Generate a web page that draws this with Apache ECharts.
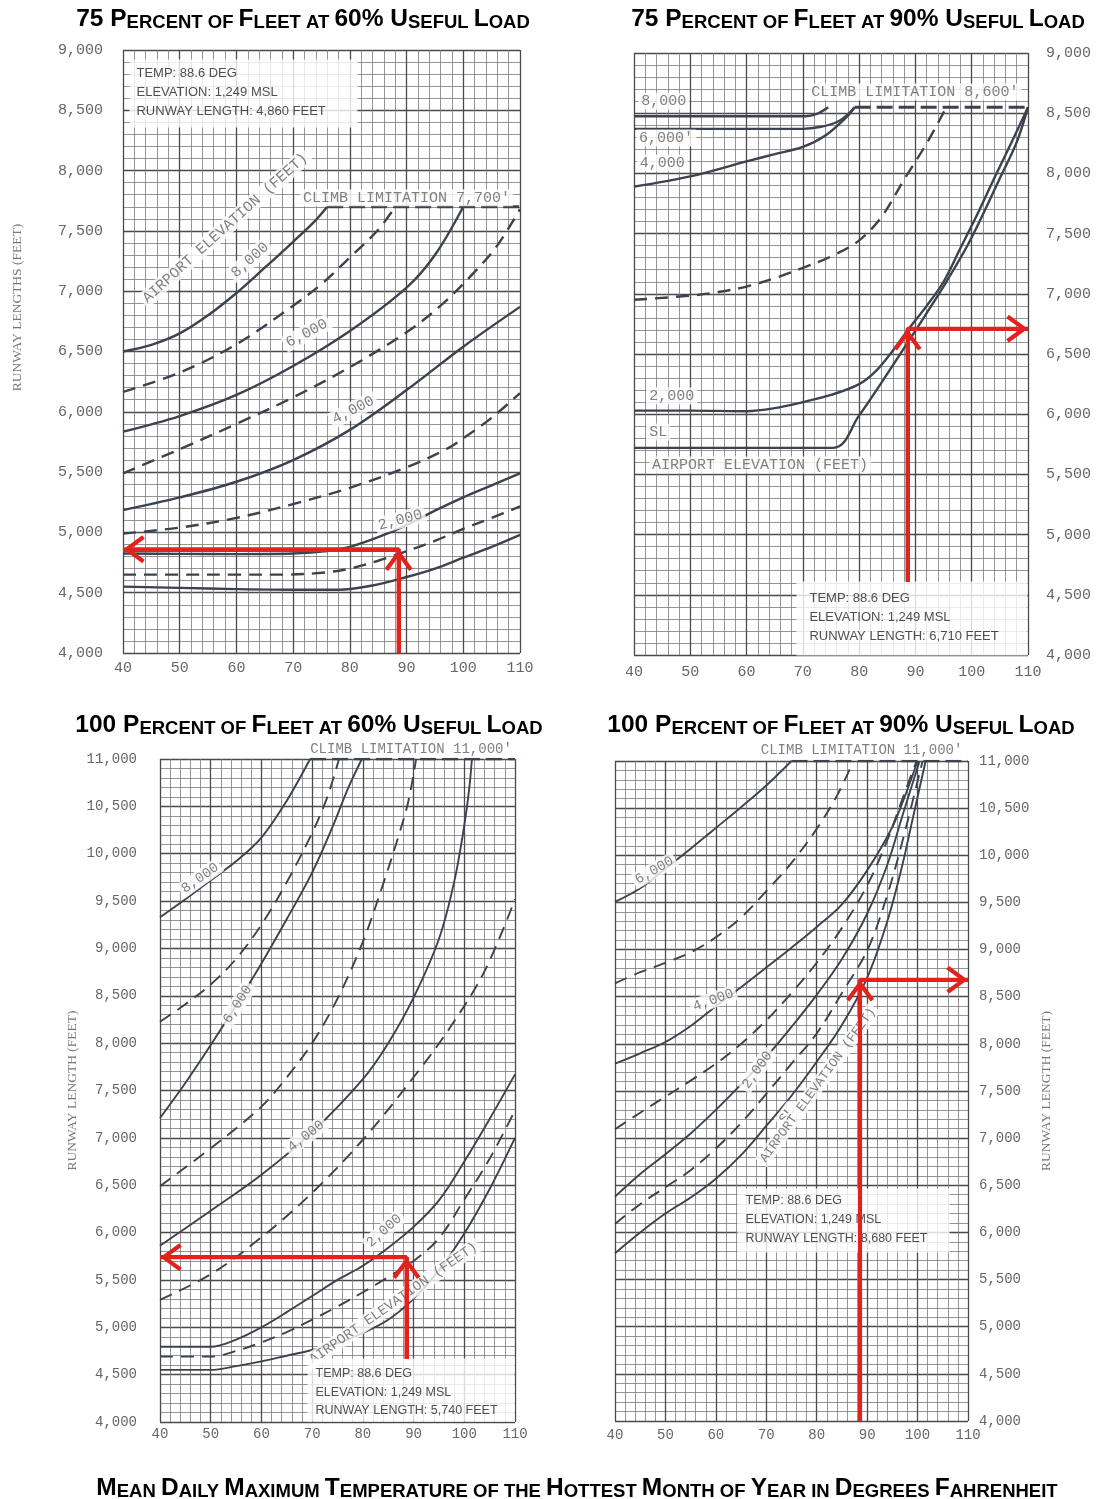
<!DOCTYPE html>
<html>
<head>
<meta charset="utf-8">
<script src="https://cdn.jsdelivr.net/npm/echarts@6/dist/echarts.min.js"></script>
<style>
html, body { margin: 0; padding: 0; background: #fff; }
#main { width: 1102px; height: 1499px; }
</style>
</head>
<body>
<div id="main"></div>
<script>
// ---- values (deg F, feet) ----
var designTemp = 88.6;
var designElev = '1,249';
var runwayLen = [4860, 6710, 5740, 8680];
var climbLimit = [7700, 8550, 11000, 11000];

// 75% of fleet, 60% useful load
var a_sl   = [[40,4550],[50,4540],[60,4530],[70,4525],[78,4525],[84,4560],[90,4630],[95,4700],[100,4790],[105,4880],[110,4980]];
var a_1000 = [[40,4650],[50,4650],[60,4650],[68,4650],[75,4665],[80,4700],[85,4765],[90,4845],[95,4930],[100,5030],[105,5120],[110,5215]];
var a_2000 = [[40,4825],[50,4822],[60,4820],[70,4825],[76,4845],[80,4880],[85,4960],[90,5060],[95,5180],[100,5290],[105,5390],[110,5490]];
var a_3000 = [[40,4990],[50,5040],[60,5120],[70,5235],[80,5370],[90,5540],[97,5690],[100,5780],[105,5950],[110,6155]];
var a_4000 = [[40,5185],[50,5290],[60,5420],[70,5600],[80,5850],[90,6180],[100,6540],[110,6870]];
var a_5000 = [[40,5490],[50,5690],[60,5900],[70,6120],[80,6370],[90,6660],[96,6880],[102,7160],[106,7380],[110,7680]];
var a_6000 = [[40,5835],[50,5965],[60,6140],[70,6380],[80,6670],[90,7030],[95,7300],[100,7700]];
var a_7000 = [[40,6165],[50,6325],[60,6560],[70,6880],[75,7060],[80,7280],[85,7510],[88,7700]];
var a_8000 = [[40,6500],[45,6555],[50,6650],[55,6800],[60,6985],[65,7195],[70,7410],[74,7590],[76,7700]];

// 75% of fleet, 90% useful load
var b_sl   = [[40,5720],[75.4,5720],[80,5990],[84,6265],[88,6550],[92,6840],[95.5,7100],[99,7380],[102,7660],[105,7960],[108,8260],[110,8550]];
var b_2000 = [[40,6030],[50,6030],[60,6025],[65,6050],[70,6100],[75,6160],[80,6250],[83,6360],[86,6530],[89,6720],[92,6900],[95,7100],[98,7380],[101,7660],[104,7960],[107,8250],[110,8550]];
var b_3000 = [[40,6950],[50,6985],[55,7015],[60,7060],[65,7130],[70,7215],[75,7310],[80,7444],[84,7640],[88,7950],[92,8250],[95.5,8550]];
var b_4000 = [[40,7890],[50,7975],[60,8100],[65,8160],[70,8220],[74,8315],[77.8,8470],[79.2,8550]];
var b_6000 = [[40,8370],[70,8370],[73,8385],[76,8425],[78,8490],[79.2,8550]];
var b_8000 = [[40,8475],[70.5,8475],[72.5,8495],[74.5,8550]];

// 100% of fleet, 60% useful load
var c_sl   = [[40,4550],[50,4550],[55,4590],[60,4640],[65,4700],[70,4760],[75,4830],[80,4940],[85,5080],[90,5300],[95,5600],[100,5990],[105,6460],[110,7000]];
var c_1000 = [[40,4690],[50,4690],[55,4750],[60,4840],[65,4950],[70,5080],[75,5220],[80,5370],[85,5530],[90,5700],[95,5940],[100,6350],[105,6780],[110,7290]];
var c_2000 = [[40,4795],[50,4795],[55,4870],[60,5000],[65,5160],[70,5330],[75,5500],[80,5650],[85,5840],[90,6060],[95,6340],[100,6750],[105,7200],[110,7670]];
var c_3000 = [[40,5290],[50,5560],[60,5950],[70,6420],[80,6980],[90,7640],[97,8150],[104,8760],[110,9520]];
var c_4000 = [[40,5860],[50,6230],[60,6610],[70,7060],[80,7620],[85,8000],[90,8480],[95,9100],[98,9700],[100,10300],[101,10700],[101.5,11000]];
var c_5000 = [[40,6490],[50,6890],[60,7330],[65,7640],[70,8000],[75,8470],[80,9070],[84,9680],[87,10180],[89,10560],[90.5,11000]];
var c_6000 = [[40,7210],[45,7580],[50,7980],[55,8400],[60,8840],[65,9310],[70,9800],[74,10280],[77,10680],[79.8,11000]];
var c_7000 = [[40,8225],[45,8410],[50,8620],[55,8890],[60,9250],[65,9700],[70,10220],[73,10600],[75.3,11000]];
var c_8000 = [[40,9330],[45,9520],[50,9720],[55,9920],[60,10170],[65,10560],[69.6,11000]];

// 100% of fleet, 90% useful load
var d_sl   = [[40,5780],[45,6000],[50,6200],[55,6370],[60,6570],[65,6820],[70,7130],[75,7450],[80,7810],[85,8200],[90,8700],[94,9300],[97,9900],[99,10380],[101.6,11000]];
var d_1000 = [[40,6090],[45,6300],[50,6480],[55,6660],[60,6890],[65,7160],[70,7470],[75,7790],[80,8110],[85,8540],[90,8990],[94,9580],[97,10150],[101,11000]];
var d_2000 = [[40,6380],[45,6620],[50,6830],[55,7050],[60,7300],[65,7570],[70,7860],[75,8180],[80,8520],[85,8900],[90,9380],[94,9900],[97,10420],[100.4,11000]];
var d_3000 = [[40,7095],[45,7270],[50,7440],[55,7610],[60,7790],[65,8000],[70,8250],[75,8540],[80,8860],[85,9230],[90,9680],[94,10160],[97,10600],[99.8,11000]];
var d_4000 = [[40,7790],[45,7900],[50,8020],[55,8190],[60,8400],[65,8600],[70,8810],[75,9020],[80,9240],[85,9480],[90,9840],[95,10300],[98,10700],[100,11000]];
var d_5000 = [[40,8642],[45,8760],[50,8860],[55,8970],[60,9130],[65,9340],[70,9620],[75,9920],[80,10280],[84,10630],[87.3,11000]];
var d_6000 = [[40,9505],[45,9650],[50,9860],[55,10070],[60,10290],[65,10510],[70,10740],[75,11000]];

var titles = [
  '75 Percent of Fleet at 60% Useful Load',
  '75 Percent of Fleet at 90% Useful Load',
  '100 Percent of Fleet at 60% Useful Load',
  '100 Percent of Fleet at 90% Useful Load'
];
var bottomTitle = 'Mean Daily Maximum Temperature of the Hottest Month of Year in Degrees Fahrenheit';

function fmt(n) { return n.toLocaleString('en-US'); }

// ---- layout & styles ----
var RED = '#e2231d';
var INK = '#3c424e';
var CHEVRON = 'path://M14,0L14.2,0.2L13.8,0.2Z M0,41L14,22L28,41L24.5,43.5L14,29L3.5,43.5Z';

var panels = [
  { grid: {left: 123, top: 50, width: 397, height: 603}, yMin: 4000, yMax: 9000, yPos: 'left',
    yMargin: 20, xMargin: 8, tickFont: 15, lblFont: 15, lineW: 2.4,
    curves: [[a_sl,0],[a_1000,1],[a_2000,0],[a_3000,1],[a_4000,0],[a_5000,1],[a_6000,0],[a_7000,1],[a_8000,0]],
    climbFrom: 76,
    labels: [
      {t: 58, v: 7524, r: 42, s: 'AIRPORT ELEVATION (FEET)'},
      {t: 62.4, v: 7259, r: 42, s: '8,000'},
      {t: 72.4, v: 6651, r: 28, s: '6,000'},
      {t: 80.6, v: 6015, r: 27, s: '4,000'},
      {t: 88.9, v: 5103, r: 15, s: '2,000'},
      {t: 90, v: 7775, r: 0, s: "CLIMB LIMITATION 7,700'"}
    ],
    box: {t: 41.23, v: 8917, w: 228, h: 68, pt: 4.5, pl: 7, font: 13, lh: 19},
    arrowStart: 4000, edge: 40, yName: 'RUNWAY LENGTHS (FEET)', nameGap: 99, namePad: [0, 0, 0, 88] },
  { grid: {left: 634, top: 53, width: 394, height: 602}, yMin: 4000, yMax: 9000, yPos: 'right',
    yMargin: 18, xMargin: 10, tickFont: 15, lblFont: 15, lineW: 2.4,
    curves: [[b_sl,0],[b_2000,0],[b_3000,1],[b_4000,0],[b_6000,0],[b_8000,0]],
    climbFrom: 79.2,
    labels: [
      {t: 45.3, v: 8600, r: 0, s: '8,000'},
      {t: 45.7, v: 8294, r: 0, s: "6,000'"},
      {t: 45, v: 8086, r: 0, s: '4,000'},
      {t: 46.7, v: 6151, r: 0, s: '2,000'},
      {t: 44.3, v: 5852, r: 0, s: 'SL'},
      {t: 62.4, v: 5578, r: 0, s: 'AIRPORT ELEVATION (FEET)'},
      {t: 89.9, v: 8676, r: 0, s: "CLIMB LIMITATION 8,600'"}
    ],
    box: {t: 68.95, v: 4606, w: 231, h: 74, pt: 7.5, pl: 13, font: 13, lh: 19},
    arrowStart: 4606, edge: 110, yName: '' },
  { grid: {left: 160, top: 759, width: 355, height: 663}, yMin: 4000, yMax: 11000, yPos: 'left',
    yMargin: 23, xMargin: 5, tickFont: 14, lblFont: 14, lineW: 1.9,
    curves: [[c_sl,0],[c_1000,1],[c_2000,0],[c_3000,1],[c_4000,0],[c_5000,1],[c_6000,0],[c_7000,1],[c_8000,0]],
    climbFrom: 69.6,
    labels: [
      {t: 89.5, v: 11106, r: 0, s: "CLIMB LIMITATION 11,000'"},
      {t: 47.9, v: 9743, r: 35, s: '8,000'},
      {t: 55.3, v: 8410, r: 58, s: '6,000'},
      {t: 68.8, v: 7019, r: 38, s: '4,000'},
      {t: 84.2, v: 6020, r: 42, s: '2,000'},
      {t: 86, v: 5254, r: 35, s: 'AIRPORT ELEVATION (FEET)'}
    ],
    box: {t: 69.19, v: 4665, w: 207, h: 63, pt: 6, pl: 8, font: 12.5, lh: 18.5},
    arrowStart: 4665, edge: 40, yName: 'RUNWAY LENGTH (FEET)', nameGap: 81, namePad: [0, 0, 0, 0] },
  { grid: {left: 615, top: 761, width: 353, height: 660}, yMin: 4000, yMax: 11000, yPos: 'right',
    yMargin: 11, xMargin: 7, tickFont: 14, lblFont: 14, lineW: 1.9,
    curves: [[d_sl,0],[d_1000,1],[d_2000,0],[d_3000,1],[d_4000,0],[d_5000,1],[d_6000,0]],
    climbFrom: 75,
    labels: [
      {t: 88.9, v: 11117, r: 0, s: "CLIMB LIMITATION 11,000'"},
      {t: 47.8, v: 9840, r: 30, s: '6,000'},
      {t: 59.5, v: 8465, r: 20, s: '4,000'},
      {t: 68.2, v: 7723, r: 55, s: '2,000'},
      {t: 74.1, v: 7246, r: 55, s: 'SL'},
      {t: 80.2, v: 7564, r: 54, s: 'AIRPORT ELEVATION (FEET)', f: 13}
    ],
    box: {t: 64.39, v: 6461, w: 212, h: 64, pt: 2.5, pl: 8, font: 12.5, lh: 19},
    arrowStart: 4000, edge: 110, yName: 'RUNWAY LENGTH (FEET)', nameGap: 71, namePad: [0, 0, 0, 0] }
];

// small-caps title: capitals/digits large, lower-case letters as small capitals
function smallCaps(str) {
  var out = '', cur = null, buf = '';
  for (var i = 0; i < str.length; i++) {
    var ch = str[i];
    var cls = ch === ' ' ? (cur || 'b') : (/[a-z]/.test(ch) ? 's' : 'b');
    if (cls !== cur && buf) { out += '{' + cur + '|' + buf + '}'; buf = ''; }
    cur = cls;
    buf += cls === 's' ? ch.toUpperCase() : ch;
  }
  if (buf) out += '{' + cur + '|' + buf + '}';
  return out;
}
var RICH = {
  b: {fontSize: 24.5, fontWeight: 'bold', fontFamily: 'Liberation Sans', color: '#000', lineHeight: 27, verticalAlign: 'bottom'},
  s: {fontSize: 18.5, fontWeight: 'bold', fontFamily: 'Liberation Sans', color: '#000', lineHeight: 27, verticalAlign: 'bottom'}
};
var titleSpots = [[298, 0], [853, 0], [304, 706], [836, 706], [572, 1469]];

var option = {
  animation: false,
  backgroundColor: '#fff',
  title: titles.concat([bottomTitle]).map(function (t, i) {
    return {text: smallCaps(t), left: titleSpots[i][0], top: titleSpots[i][1], textAlign: 'center',
            textStyle: {rich: RICH}};
  }),
  grid: [], xAxis: [], yAxis: [], series: []
};

panels.forEach(function (p, i) {
  option.grid.push(Object.assign({outerBoundsMode: 'none', containLabel: false}, p.grid));
  option.xAxis.push({
    type: 'value', gridIndex: i, min: 40, max: 110, interval: 10,
    axisLine: {show: false}, axisTick: {show: false},
    axisLabel: {color: '#666', fontFamily: 'Liberation Mono', fontSize: p.tickFont, margin: p.xMargin},
    splitLine: {show: true, lineStyle: {color: '#4a4a4a', width: 1.3}},
    minorTick: {show: false, splitNumber: 5},
    minorSplitLine: {show: true, lineStyle: {color: '#7a7a7a', width: 0.8}}
  });
  option.yAxis.push({
    type: 'value', gridIndex: i, min: p.yMin, max: p.yMax, interval: 500, position: p.yPos,
    axisLine: {show: false}, axisTick: {show: false},
    axisLabel: {color: '#666', fontFamily: 'Liberation Mono', fontSize: p.tickFont, margin: p.yMargin,
                formatter: function (v) { return fmt(v); }},
    splitLine: {show: true, lineStyle: {color: '#4a4a4a', width: 1.3}},
    minorTick: {show: false, splitNumber: 5},
    minorSplitLine: {show: true, lineStyle: {color: '#7a7a7a', width: 0.8}},
    name: p.yName, nameLocation: 'middle', nameRotate: 90, nameGap: p.nameGap || 0,
    nameTextStyle: {color: '#777', fontFamily: 'Liberation Serif', fontSize: 13.5, padding: p.namePad || 0}
  });

  // elevation curves
  p.curves.forEach(function (c) {
    option.series.push({
      type: 'line', xAxisIndex: i, yAxisIndex: i, data: c[0], z: 2,
      smooth: 0.35, symbol: 'none', silent: true,
      lineStyle: {color: INK, width: p.lineW, type: c[1] ? [13, 8] : 'solid'}
    });
  });
  // climb limitation
  option.series.push({
    type: 'line', xAxisIndex: i, yAxisIndex: i, z: 2, symbol: 'none', silent: true,
    data: [[p.climbFrom, climbLimit[i]], [110, climbLimit[i]]],
    lineStyle: {color: INK, width: p.lineW + 0.6, type: [16, 6]}
  });
  // curve labels
  option.series.push({
    type: 'scatter', xAxisIndex: i, yAxisIndex: i, z: 3, silent: true, clip: false,
    symbolSize: 1, itemStyle: {color: 'transparent'},
    label: {show: true, position: 'inside', color: '#606060', fontFamily: 'Liberation Mono',
            fontSize: p.lblFont, backgroundColor: '#fff', padding: [1, 3]},
    data: p.labels.map(function (l) {
      return {value: [l.t, l.v], label: {formatter: l.s, rotate: l.r, fontSize: l.f || p.lblFont}};
    })
  });
  // info box
  var b = p.box;
  option.series.push({
    type: 'scatter', xAxisIndex: i, yAxisIndex: i, z: 4, silent: true, clip: false,
    symbolSize: 1, itemStyle: {color: 'transparent'},
    label: {show: true, position: [0, 0], align: 'left', verticalAlign: 'top',
            color: '#222', fontFamily: 'Liberation Sans', fontSize: b.font, lineHeight: b.lh,
            backgroundColor: '#fff', padding: [b.pt, 0, 0, b.pl], width: b.w - b.pl, height: b.h - b.pt,
            formatter: 'TEMP: ' + designTemp + ' DEG\nELEVATION: ' + designElev + ' MSL\nRUNWAY LENGTH: ' + fmt(runwayLen[i]) + ' FEET'},
    data: [[b.t, b.v]]
  });
  // red reading arrows
  option.series.push({
    type: 'line', xAxisIndex: i, yAxisIndex: i, z: 5, symbol: 'none', silent: true,
    data: [[designTemp, p.arrowStart], [designTemp, runwayLen[i]], [p.edge, runwayLen[i]]],
    lineStyle: {color: RED, width: 4},
    markLine: {
      silent: true, animation: false, symbol: ['none', CHEVRON], symbolSize: [28, 43.5],
      label: {show: false}, lineStyle: {color: RED, width: 4, type: 'solid'},
      emphasis: {disabled: true},
      data: [
        [{coord: [designTemp, p.arrowStart]}, {coord: [designTemp, runwayLen[i]]}],
        [{coord: [designTemp, runwayLen[i]]}, {coord: [p.edge, runwayLen[i]]}]
      ]
    }
  });
});

var chart = echarts.init(document.getElementById('main'), null, {renderer: 'canvas'});
chart.setOption(option);
</script>
</body>
</html>
